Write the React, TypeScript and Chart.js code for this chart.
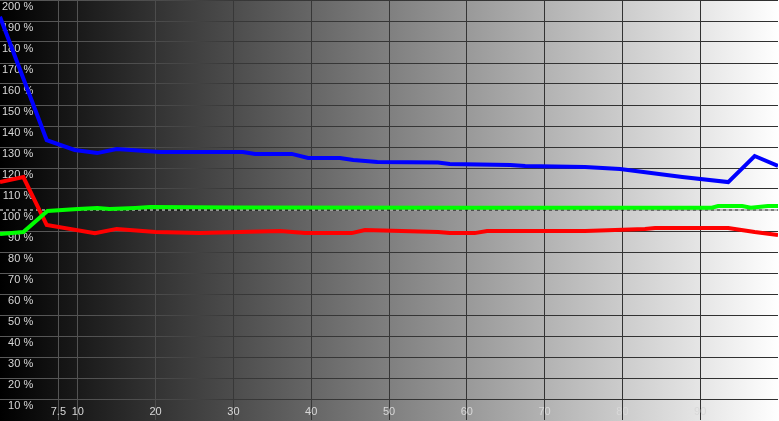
import React, { useEffect, useRef } from "react";
import { Chart, registerables } from "chart.js";

Chart.register(...registerables);

const blueX = [0, 6, 9.6, 12.5, 15, 20.5, 31.2, 32.8, 37.5, 39.6, 43.7, 45.4, 48.5, 56.3, 57.8, 65.6, 67.5, 75.2, 79.7, 87.7, 93.6, 97, 100];
const blueY = [192, 133.3, 128.6, 127.1, 129, 127.6, 127.6, 126.7, 126.7, 124.8, 124.8, 123.8, 122.9, 122.6, 121.9, 121.4, 121, 120.5, 119.5, 115.7, 113.3, 125.7, 121];

const redX = [0, 3, 6, 12.2, 15, 20, 25.7, 36, 39.2, 45.2, 46.9, 56.3, 57.8, 61, 62.6, 75.2, 82.9, 84.2, 93.6, 97, 100];
const redY = [113.3, 115.7, 92.9, 89.0, 91.0, 89.5, 89.0, 90.0, 89.0, 89.0, 90.5, 89.5, 89.0, 89.0, 90.0, 90.0, 91.0, 91.4, 91.4, 89.5, 88.1];

const greenX = [0, 3, 6.1, 10, 12.5, 14.1, 17.4, 19.3, 30, 60, 91.5, 92.3, 95.4, 96.5, 98.7, 100];
const greenY = [88.6, 89.5, 99.5, 100.5, 101.0, 100.5, 101.0, 101.4, 101.2, 101.1, 101.1, 101.9, 101.9, 101.1, 101.9, 101.9];

const refX = [0, 100];
const refY = [100, 100];

const xTicks = [7.5, 10, 20, 30, 40, 50, 60, 70, 80, 90];
const yMin = 0;
const yMax = 200;
const yStep = 10;

const toPoints = (xs: number[], ys: number[]) => xs.map((x, i) => ({ x, y: ys[i] }));

const zeroPad = (scale: any) => {
  scale.paddingTop = 0;
  scale.paddingBottom = 0;
  scale.paddingLeft = 0;
  scale.paddingRight = 0;
};

export default function App() {
  const ref = useRef<HTMLCanvasElement | null>(null);

  useEffect(() => {
    const canvas = ref.current;
    if (!canvas) return;
    const ctx = canvas.getContext("2d")!;
    const W = 779;
    const gridGrad = ctx.createLinearGradient(0, 0, W, 0);
    gridGrad.addColorStop(0, "#5a5a5a");
    gridGrad.addColorStop(0.2, "#4c4c4c");
    gridGrad.addColorStop(0.3, "#383838");
    gridGrad.addColorStop(1, "#303030");

    const bgPlugin = {
      id: "bg",
      beforeDraw(chart: any) {
        const c = chart.ctx;
        const g = c.createLinearGradient(0, 0, chart.width, 0);
        g.addColorStop(0, "#000000");
        g.addColorStop(1, "#ffffff");
        c.save();
        c.fillStyle = g;
        c.fillRect(0, 0, chart.width, chart.height);
        c.restore();
      },
    };

    const line = (data: any[], color: string, width: number, extra: any = {}) => ({
      data,
      borderColor: color,
      backgroundColor: color,
      borderWidth: width,
      pointRadius: 0,
      tension: 0,
      fill: false,
      ...extra,
    });

    const chart = new Chart(canvas, {
      type: "line",
      data: {
        datasets: [
          line(toPoints(blueX, blueY), "#0000ff", 4),
          line(toPoints(greenX, greenY), "#00ff00", 4),
          line(toPoints(redX, redY), "#ff0000", 4),
          line(toPoints(refX, refY), "#ffffff", 1, { borderDash: [3, 3] }),
          line(toPoints(refX, refY), "#000000", 1),
        ],
      },
      options: {
        animation: false,
        responsive: false,
        devicePixelRatio: 1,
        layout: { padding: { top: 0, left: 0, right: 1, bottom: 1 } },
        plugins: { legend: { display: false }, tooltip: { enabled: false } },
        scales: {
          x: {
            type: "linear",
            min: 0,
            max: 100,
            afterBuildTicks: (scale: any) => {
              scale.ticks = xTicks.map((v) => ({ value: v }));
            },
            afterFit: (scale: any) => {
              scale.height = 0;
              zeroPad(scale);
            },
            border: { display: false },
            grid: { color: gridGrad as any, lineWidth: 1, drawTicks: false, tickLength: 0 },
            ticks: {
              mirror: true,
              padding: 1,
              color: "#d8d8d8",
              font: { family: "'Liberation Sans', Arial, sans-serif", size: 11 },
              maxRotation: 0,
              autoSkip: false,
              callback: (v: any) => String(v),
            },
          },
          y: {
            type: "linear",
            min: yMin,
            max: yMax,
            afterFit: (scale: any) => {
              scale.width = 0;
              zeroPad(scale);
            },
            border: { display: false },
            grid: {
              color: (c: any) => (c.tick && (c.tick.value === 100 || c.tick.value === 0) ? "rgba(0,0,0,0)" : (gridGrad as any)),
              lineWidth: 1,
              drawTicks: false,
              tickLength: 0,
            },
            ticks: {
              stepSize: yStep,
              mirror: true,
              crossAlign: "far",
              padding: 2,
              labelOffset: 7,
              color: "#d8d8d8",
              font: { family: "'Liberation Sans', Arial, sans-serif", size: 11 },
              callback: (v: any) => (v === 0 ? "" : v + " %"),
            },
          },
        },
      },
      plugins: [bgPlugin],
    } as any);

    return () => chart.destroy();
  }, []);

  return (
    <div style={{ position: "fixed", left: 0, top: 0, width: 779, height: 421 }}>
      <canvas ref={ref} width={779} height={421} style={{ display: "block" }} />
    </div>
  );
}
